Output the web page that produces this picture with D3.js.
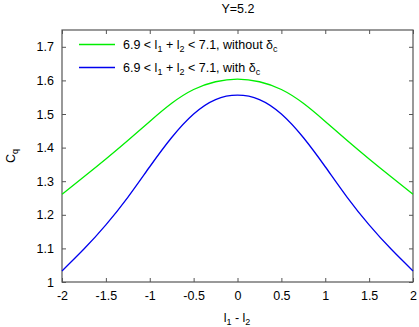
<!DOCTYPE html>
<html>
<head>
<meta charset="utf-8">
<script src="https://cdn.jsdelivr.net/npm/d3@7"></script>
<style>
	body { margin: 0; background: #fff; }
	svg { display: block; font-family: "Liberation Sans", Arial, sans-serif; }
	.tick text { font-size: 12.5px; fill: #000; }
</style>
</head>
<body>
<script>
const xs = [-2, -1.75, -1.5, -1.25, -1, -0.75, -0.5, -0.25, 0, 0.25, 0.5, 0.75, 1, 1.25, 1.5, 1.75, 2];
const withoutDelta = [1.261, 1.313, 1.366, 1.421, 1.478, 1.532, 1.573, 1.596, 1.604, 1.596, 1.573, 1.532, 1.478, 1.421, 1.366, 1.313, 1.261];
const withDelta = [1.033, 1.098, 1.170, 1.252, 1.343, 1.430, 1.500, 1.543, 1.556, 1.543, 1.500, 1.430, 1.343, 1.252, 1.170, 1.098, 1.033];
const xTicks = [-2, -1.5, -1, -0.5, 0, 0.5, 1, 1.5, 2];
const yTicks = [1, 1.1, 1.2, 1.3, 1.4, 1.5, 1.6, 1.7];

const width = 419, height = 327;
const m = { left: 62, right: 413, top: 30, bottom: 282 };

const svg = d3.select('body').append('svg')
	.attr('width', width)
	.attr('height', height);

const x = d3.scaleLinear().domain([-2, 2]).range([m.left, m.right]);
const y = d3.scaleLinear().domain([1, 1.75]).range([m.bottom, m.top]);

// gnuplot style: ticks point inward on all four sides, plain hyphen for minus
const fmt = function(d) { return String(d); };
svg.append('g').attr('transform', 'translate(0,' + m.bottom + ')')
	.call(d3.axisBottom(x).tickValues(xTicks).tickSize(-4).tickPadding(9).tickFormat(fmt));
svg.append('g').attr('transform', 'translate(0,' + m.top + ')')
	.call(d3.axisTop(x).tickValues(xTicks).tickSize(-4).tickFormat(''));
svg.append('g').attr('transform', 'translate(' + m.left + ',0)')
	.call(d3.axisLeft(y).tickValues(yTicks).tickSize(-4).tickPadding(8).tickFormat(fmt));
svg.append('g').attr('transform', 'translate(' + m.right + ',0)')
	.call(d3.axisRight(y).tickValues(yTicks).tickSize(-4).tickFormat(''));

svg.selectAll('.domain').remove();
svg.selectAll('.tick line').attr('stroke', '#555');

svg.append('rect')
	.attr('x', m.left).attr('y', m.top)
	.attr('width', m.right - m.left).attr('height', m.bottom - m.top)
	.attr('fill', 'none').attr('stroke', '#555').attr('stroke-width', 1.2);

const line = d3.line().curve(d3.curveNatural)
	.x(function(d, i) { return x(xs[i]); })
	.y(function(d) { return y(d); });

const series = [
	{ vals: withoutDelta, color: '#00ee00', label: 'without' },
	{ vals: withDelta, color: '#0000ee', label: 'with' }
];

svg.selectAll('path.curve').data(series).enter().append('path')
	.attr('class', 'curve')
	.attr('d', function(d) { return line(d.vals); })
	.attr('fill', 'none')
	.attr('stroke', function(d) { return d.color; })
	.attr('stroke-width', 1.3);

// legend
series.forEach(function(s, i) {
	const ly = 44.5 + i * 23;
	svg.append('line')
		.attr('x1', 79).attr('x2', 115).attr('y1', ly).attr('y2', ly)
		.attr('stroke', s.color).attr('stroke-width', 1.3);
	const t = svg.append('text').attr('x', 123).attr('y', ly + 4.5).attr('font-size', 12.5);
	t.append('tspan').text('6.9 < l');
	t.append('tspan').attr('dy', 3).attr('font-size', 9).text('1');
	t.append('tspan').attr('dy', -3).text(' + l');
	t.append('tspan').attr('dy', 3).attr('font-size', 9).text('2');
	t.append('tspan').attr('dy', -3).text(' < 7.1, ' + s.label + ' δ');
	t.append('tspan').attr('dy', 3).attr('font-size', 9).text('c');
});

svg.append('text').attr('x', 238).attr('y', 13)
	.attr('text-anchor', 'middle').attr('font-size', 12.5).text('Y=5.2');

const xl = svg.append('text').attr('x', 237).attr('y', 322)
	.attr('text-anchor', 'middle').attr('font-size', 12.5);
xl.append('tspan').text('l');
xl.append('tspan').attr('dy', 3).attr('font-size', 9).text('1');
xl.append('tspan').attr('dy', -3).text(' - l');
xl.append('tspan').attr('dy', 3).attr('font-size', 9).text('2');

const yl = svg.append('text').attr('transform', 'translate(15,156) rotate(-90)')
	.attr('text-anchor', 'middle').attr('font-size', 12.5);
yl.append('tspan').text('C');
yl.append('tspan').attr('dy', 3).attr('font-size', 9).text('q');
</script>
</body>
</html>
